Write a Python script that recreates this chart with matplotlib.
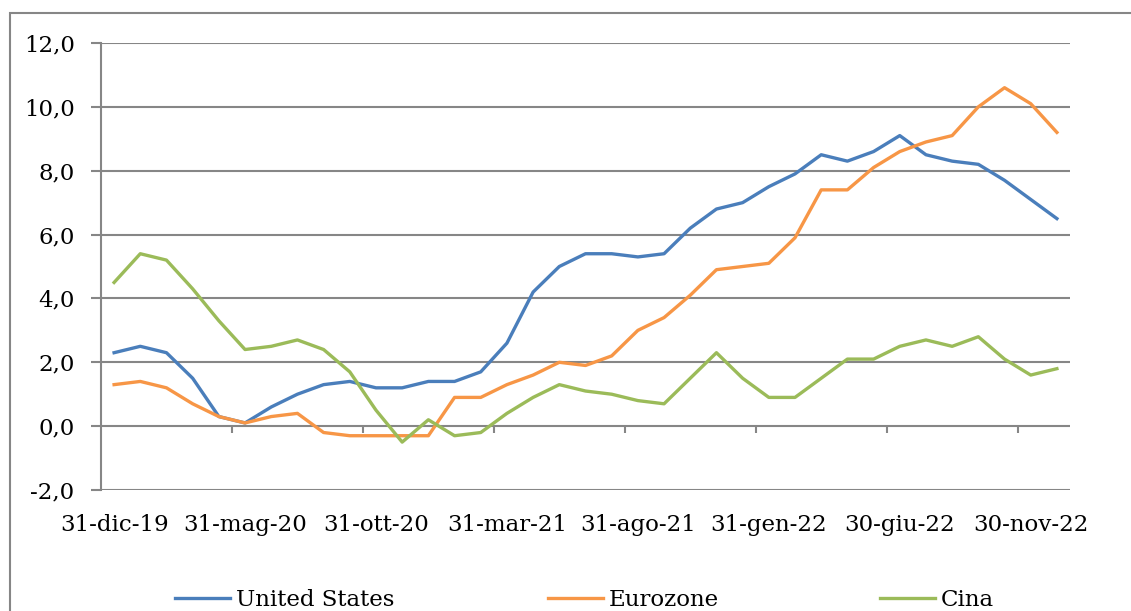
import matplotlib
matplotlib.use('Agg')
import matplotlib.pyplot as plt
from matplotlib.patches import Rectangle

plt.rcParams['font.family'] = ['DejaVu Serif']

# monthly data, 31-dic-19 .. 31-dic-22
months = ['31-dic-19', '31-gen-20', '29-feb-20', '31-mar-20', '30-apr-20', '31-mag-20',
          '30-giu-20', '31-lug-20', '31-ago-20', '30-set-20', '31-ott-20', '30-nov-20',
          '31-dic-20', '31-gen-21', '28-feb-21', '31-mar-21', '30-apr-21', '31-mag-21',
          '30-giu-21', '31-lug-21', '31-ago-21', '30-set-21', '31-ott-21', '30-nov-21',
          '31-dic-21', '31-gen-22', '28-feb-22', '31-mar-22', '30-apr-22', '31-mag-22',
          '30-giu-22', '31-lug-22', '31-ago-22', '30-set-22', '31-ott-22', '30-nov-22',
          '31-dic-22']
us = [2.3, 2.5, 2.3, 1.5, 0.3, 0.1, 0.6, 1.0, 1.3, 1.4, 1.2, 1.2, 1.4, 1.4, 1.7, 2.6,
      4.2, 5.0, 5.4, 5.4, 5.3, 5.4, 6.2, 6.8, 7.0, 7.5, 7.9, 8.5, 8.3, 8.6, 9.1, 8.5,
      8.3, 8.2, 7.7, 7.1, 6.5]
eurozone = [1.3, 1.4, 1.2, 0.7, 0.3, 0.1, 0.3, 0.4, -0.2, -0.3, -0.3, -0.3, -0.3, 0.9,
            0.9, 1.3, 1.6, 2.0, 1.9, 2.2, 3.0, 3.4, 4.1, 4.9, 5.0, 5.1, 5.9, 7.4, 7.4,
            8.1, 8.6, 8.9, 9.1, 10.0, 10.6, 10.1, 9.2]
cina = [4.5, 5.4, 5.2, 4.3, 3.3, 2.4, 2.5, 2.7, 2.4, 1.7, 0.5, -0.5, 0.2, -0.3, -0.2,
        0.4, 0.9, 1.3, 1.1, 1.0, 0.8, 0.7, 1.5, 2.3, 1.5, 0.9, 0.9, 1.5, 2.1, 2.1, 2.5,
        2.7, 2.5, 2.8, 2.1, 1.6, 1.8]
series_names = ['United States', 'Eurozone', 'Cina']
colors = ['#4A7EBB', '#F79646', '#9BBB59']
yticks = [-2, 0, 2, 4, 6, 8, 10, 12]

grid_col = '#868686'
fs = 16.5
x = list(range(len(months)))

fig = plt.figure(figsize=(11.31, 6.11), dpi=100)
fig.patches.append(Rectangle((10 / 1131, -0.1), 1.2, 1 - 13 / 611 + 0.1,
                             transform=fig.transFigure, fill=False,
                             edgecolor=grid_col, linewidth=1.5))
ax = fig.add_axes([101 / 1131, 1 - 490 / 611, (1070 - 101) / 1131, (490 - 43) / 611])

for yt in yticks:
    ax.axhline(yt, color=grid_col, linewidth=1.5, zorder=1)

lines = []
for vals, name, c in zip([us, eurozone, cina], series_names, colors):
    ln, = ax.plot(x, vals, color=c, linewidth=2.4, label=name, zorder=3,
                  solid_joinstyle='round')
    lines.append(ln)

ax.set_xlim(-0.5, len(months) - 0.5)
ax.set_ylim(-2, 12)
for s in ['top', 'right', 'bottom']:
    ax.spines[s].set_visible(False)
ax.spines['left'].set_color(grid_col)
ax.spines['left'].set_linewidth(1.5)

ax.set_yticks(yticks)
ax.set_yticklabels([f'{v:.1f}'.replace('.', ',') for v in yticks])
ax.tick_params(axis='y', length=7, width=1.5, color=grid_col, labelsize=fs, pad=12)

# x labels every 5 months, tick marks between categories on the zero line
lab_idx = list(range(0, len(months), 5))
ax.set_xticks(lab_idx)
ax.set_xticklabels([months[i] for i in lab_idx])
ax.tick_params(axis='x', length=0, labelsize=fs, pad=17)
tick_pos = [i + 4.5 for i in range(0, len(months) - 5, 5)]
ax.vlines(tick_pos, -0.22, 0, color=grid_col, linewidth=1.5, zorder=2)

# legend entries placed one by one along the bottom
leg_x = [175, 548, 880]
for ln, lx in zip(lines, leg_x):
    fig.legend(handles=[ln], loc='center left', bbox_to_anchor=(lx / 1131, 1 - 600 / 611),
               frameon=False, fontsize=fs, handlelength=2.4, handletextpad=0.25,
               borderpad=0, borderaxespad=0)

fig.savefig('out.png', dpi=100)
